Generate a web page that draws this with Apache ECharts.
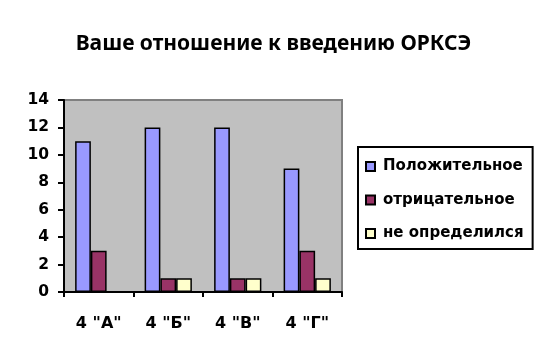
<!DOCTYPE html>
<html><head><meta charset="utf-8">
<script src="https://cdn.jsdelivr.net/npm/echarts@6/dist/echarts.min.js"></script>
<style>html,body{margin:0;padding:0;background:#fff}#c{width:547px;height:364px}</style>
</head><body><div id="c"></div>
<script>
const titleText = 'Ваше отношение к введению ОРКСЭ';
const categories = ['4 "А"', '4 "Б"', '4 "В"', '4 "Г"'];
const seriesNames = ['Положительное', 'отрицательное', 'не определился'];
const positive = [11, 12, 12, 9];
const negative = [3, 1, 1, 3];
const undecided = [0, 1, 1, 1];
const yTicks = [0, 2, 4, 6, 8, 10, 12, 14];
const colors = ['#9999FF', '#993366', '#FFFFCC'];
const values = [positive, negative, undecided];

const chart = echarts.init(document.getElementById('c'), null, {renderer: 'canvas'});
const font = 'DejaVu Sans';
chart.setOption({
  animation: false,
  textStyle: {fontFamily: font},
  title: {text: titleText, left: 'center', top: 29,
    textStyle: {fontFamily: 'Noto Sans', fontWeight: 'bold', fontSize: 21, color: '#000'}},
  grid: {left: 64, right: 205, top: 100, bottom: 72, show: true, backgroundColor: '#C0C0C0', borderColor: '#808080', borderWidth: 2},
  legend: {
    orient: 'vertical', left: 358, top: 147,
    padding: [12, 9, 8, 7], itemGap: 18.5, itemWidth: 9, itemHeight: 9,
    borderColor: '#000', borderWidth: 2, icon: 'rect',
    textStyle: {fontFamily: font, fontWeight: 'bold', fontSize: 15, color: '#000', padding: [0, 0, 0, 3]},
    data: seriesNames
  },
  xAxis: {type: 'category', data: categories,
    axisLine: {lineStyle: {color: '#000', width: 2}},
    axisTick: {show: true, length: 5, lineStyle: {color: '#000', width: 2}},
    axisLabel: {fontFamily: font, fontWeight: 'bold', fontSize: 16, color: '#000', margin: 24}},
  yAxis: {type: 'value', min: 0, max: 14, interval: 2,
    axisLine: {show: true, lineStyle: {color: '#000', width: 2}},
    axisTick: {show: true, length: 6, lineStyle: {color: '#000', width: 2}},
    splitLine: {show: false},
    axisLabel: {fontFamily: font, fontWeight: 'bold', fontSize: 15.5, color: '#000', margin: 15,
      formatter: v => yTicks.includes(v) ? String(v) : ''}},
  series: seriesNames.map((n, i) => ({
    name: n, type: 'bar', data: values[i], barGap: '0%', barCategoryGap: '32%',
    itemStyle: {color: colors[i], borderColor: '#000', borderWidth: 1.5}
  }))
});
</script></body></html>
